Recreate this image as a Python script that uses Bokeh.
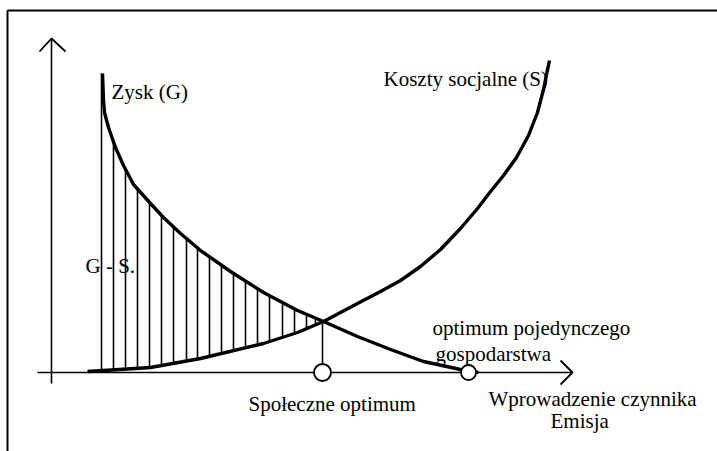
import numpy as np
from bokeh.plotting import figure
from bokeh.models import Range1d
from bokeh.core.properties import value
from bokeh.embed import file_html
from bokeh.resources import INLINE

# ---- data (diagram units; origin at the axes crossing) ----
g_x = [51, 52, 53, 57, 64, 72, 82, 99, 112, 129, 149, 179, 212, 246, 272, 306, 339, 372, 409, 427]
g_y = [299, 272, 260, 245, 225, 207, 188, 169, 155, 139, 122, 101, 80, 62, 51, 36, 23, 11, 3, 0]

s_x = [36, 99, 149, 212, 246, 272, 306, 329, 349, 369, 389, 409, 426, 439, 452, 465, 477, 486, 492, 495, 498]
s_y = [1, 5, 14, 29, 40, 51, 69, 81, 92, 106, 123, 144, 164, 181, 197, 215, 237, 260, 283, 298, 312]

hatch_x = [50, 62, 74, 86, 98, 110, 122, 135, 146, 158, 170, 182, 194, 206, 218, 231, 243, 255, 264]

social_opt_x = 271
private_opt_x = 417
cross_y = 51

labels = ["Zysk (G)", "Koszty socjalne (S)", "G - S.", "optimum pojedynczego",
          "gospodarstwa", "Wprowadzenie czynnika", "Emisja", "Społeczne optimum"]
label_x = [60, 332, 34, 381, 384, 437, 499, 197]
label_y = [281, 294, 107, 45, 19, -26, -48, -31]

# ---- figure ----
p = figure(width=717, height=451, output_backend="svg", toolbar_location=None,
           x_range=Range1d(-51, 666), y_range=Range1d(-79, 372),
           x_axis_location=None, y_axis_location=None, min_border=0)
p.grid.visible = False
p.outline_line_color = None
p.background_fill_color = "white"

ink = "black"

# frame (left and top edges of the scanned box)
p.line([-44, -44], [-79, 362], line_color=ink, line_width=2)
p.line([-44, 666], [362, 362], line_color=ink, line_width=2)

# axes with arrow heads
p.line([0, 0], [-11, 334], line_color=ink, line_width=1.6)
p.line([-12, 0, 14], [321, 334, 321], line_color=ink, line_width=1.8)
p.line([-14, 521], [0, 0], line_color=ink, line_width=1.6)
p.line([509, 521, 509], [12, 0, -12], line_color=ink, line_width=1.8)

# hatching between curves
gx = np.array(g_x, float); gy = np.array(g_y, float)
sx = np.array(s_x, float); sy = np.array(s_y, float)
hx = np.array(hatch_x, float)
top = np.interp(hx, gx, gy)
bot = np.interp(hx, sx, sy, left=0.0)
p.segment(x0=hx, y0=bot, x1=hx, y1=top, line_color=ink, line_width=1.6)

# curves
p.line(g_x, g_y, line_color=ink, line_width=3.4, line_join="round")
p.line(s_x, s_y, line_color=ink, line_width=3.4, line_join="round")

# social optimum drop line
p.line([social_opt_x, social_opt_x], [0, cross_y], line_color=ink, line_width=1.6)

# optimum markers
p.scatter([social_opt_x], [0], size=17, marker="circle", fill_color="white",
          line_color=ink, line_width=1.8)
p.scatter([private_opt_x], [0], size=15, marker="circle", fill_color="white",
          line_color=ink, line_width=1.8)

# labels
p.text(x=label_x, y=label_y, text=labels, text_font=value("Liberation Serif"),
       text_font_size="21px", text_color=ink, text_align="left",
       text_baseline="alphabetic")

open("out.html", "w").write(file_html(p, INLINE))
